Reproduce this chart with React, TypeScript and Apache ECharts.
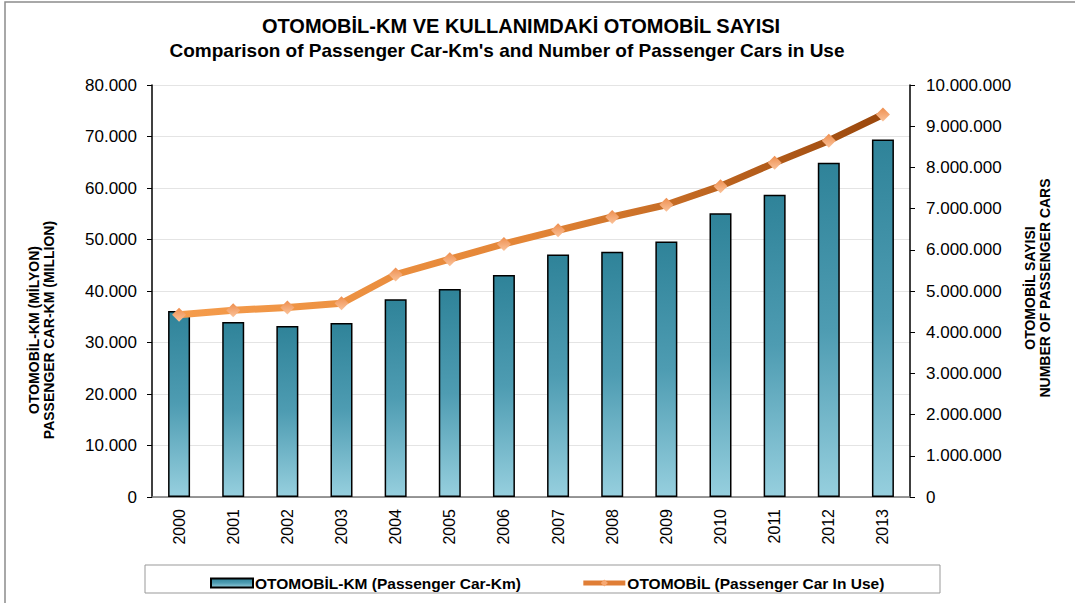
import React, { useEffect, useRef } from "react";
import * as echarts from "echarts";

const years = ["2000", "2001", "2002", "2003", "2004", "2005", "2006", "2007", "2008", "2009", "2010", "2011", "2012", "2013"];
const carKm = [36100, 34000, 33200, 33800, 38400, 40400, 43100, 47100, 47600, 49600, 55100, 58700, 64900, 69400];
const carsInUse = [4422180, 4534803, 4600140, 4700343, 5400440, 5772745, 6140992, 6472156, 6796629, 7093964, 7544871, 8113111, 8648875, 9283923];

const titleLine1 = "OTOMOBİL-KM VE KULLANIMDAKİ OTOMOBİL SAYISI";
const titleLine2 = "Comparison of Passenger Car-Km's and Number of Passenger Cars in Use";
const leftName = ["OTOMOBİL-KM (MİLYON)", "PASSENGER CAR-KM (MILLION)"];
const rightName = ["OTOMOBİL SAYISI", "NUMBER OF PASSENGER CARS"];
const barName = "OTOMOBİL-KM (Passenger Car-Km)";
const lineName = "OTOMOBİL (Passenger Car In Use)";

const FONT = 'Arial, "Liberation Sans", sans-serif';

function fmt(v: number): string {
  return Math.round(v).toString().replace(/\B(?=(\d{3})+(?!\d))/g, ".");
}

export default function App() {
  const ref = useRef<HTMLDivElement>(null);
  useEffect(() => {
    if (!ref.current) return;
    const chart = echarts.init(ref.current, null, { renderer: "svg" });
    const barGrad = new echarts.graphic.LinearGradient(0, 0, 0, 1, [
      { offset: 0, color: "#2F8399" },
      { offset: 0.5, color: "#4E9CB2" },
      { offset: 1, color: "#96CFDE" },
    ]);
    const lineGrad = new echarts.graphic.LinearGradient(0, 0, 1, 0, [
      { offset: 0, color: "#F59C4C" },
      { offset: 0.5, color: "#E38536" },
      { offset: 1, color: "#9A470C" },
    ]);
    const markerGrad = new echarts.graphic.LinearGradient(0, 0, 0, 1, [
      { offset: 0, color: "#EE8E4E" },
      { offset: 1, color: "#FAC29A" },
    ]);
    const nameFont = `bold 14px ${FONT}`;
    chart.setOption({
      animation: false,
      textStyle: { fontFamily: FONT },
      grid: { left: 152, right: 165, top: 85, bottom: 106, containLabel: false },
      graphic: [
        {
          type: "rect",
          shape: { x: 5, y: 2, width: 1100, height: 650 },
          style: { fill: "none", stroke: "#8C8C8C", lineWidth: 1.5 },
          silent: true,
        },
        {
          type: "rect",
          shape: { x: 145, y: 565, width: 795, height: 28 },
          style: { fill: "#fff", stroke: "#999", lineWidth: 1 },
          z: -1,
          silent: true,
        },
        {
          type: "text",
          x: 521,
          y: 26,
          style: { text: titleLine1, font: `bold 20px ${FONT}`, fill: "#000", align: "center", verticalAlign: "middle" },
        },
        {
          type: "text",
          x: 507,
          y: 50,
          style: { text: titleLine2, font: `bold 19px ${FONT}`, fill: "#000", align: "center", verticalAlign: "middle" },
        },
        {
          type: "text",
          x: 34,
          y: 330,
          rotation: Math.PI / 2,
          style: { text: leftName[0], font: nameFont, fill: "#000", align: "center", verticalAlign: "middle" },
        },
        {
          type: "text",
          x: 49,
          y: 330,
          rotation: Math.PI / 2,
          style: { text: leftName[1], font: nameFont, fill: "#000", align: "center", verticalAlign: "middle" },
        },
        {
          type: "text",
          x: 1030,
          y: 288,
          rotation: Math.PI / 2,
          style: { text: rightName[0], font: nameFont, fill: "#000", align: "center", verticalAlign: "middle" },
        },
        {
          type: "text",
          x: 1045,
          y: 288,
          rotation: Math.PI / 2,
          style: { text: rightName[1], font: nameFont, fill: "#000", align: "center", verticalAlign: "middle" },
        },
      ],
      legend: {
        left: 205,
        top: 570,
        itemWidth: 42,
        itemHeight: 9,
        itemGap: 60,
        textStyle: { fontFamily: FONT, fontSize: 15.5, fontWeight: "bold", color: "#000", padding: [0, 0, 0, -3] },
        data: [
          { name: barName, icon: "rect" },
          { name: lineName, lineStyle: { color: "#E07E36", width: 5 }, itemStyle: { color: "#F6A872" } },
        ],
      },
      xAxis: {
        type: "category",
        data: years,
        axisLine: { show: true, lineStyle: { color: "#777", width: 1.5 } },
        axisTick: { show: false },
        axisLabel: { rotate: 90, fontSize: 16, color: "#000", margin: 12, fontFamily: FONT },
        splitLine: { show: false },
      },
      yAxis: [
        {
          type: "value",
          min: 0,
          max: 80000,
          interval: 10000,
          position: "left",
          axisLine: { show: true, lineStyle: { color: "#000", width: 1.5 } },
          axisTick: { show: true, length: 5, lineStyle: { color: "#000" } },
          axisLabel: { formatter: (v: number) => fmt(v), fontSize: 17, color: "#000", margin: 15, fontFamily: FONT },
          splitLine: { show: true, lineStyle: { color: "#E4E4E4", width: 1.2 } },
        },
        {
          type: "value",
          min: 0,
          max: 10000000,
          interval: 1000000,
          position: "right",
          axisLine: { show: true, lineStyle: { color: "#000", width: 1.5 } },
          axisTick: { show: true, length: 5, lineStyle: { color: "#000" } },
          axisLabel: { formatter: (v: number) => fmt(v), fontSize: 17, color: "#000", margin: 16, fontFamily: FONT },
          splitLine: { show: false },
        },
      ],
      series: [
        {
          name: barName,
          type: "bar",
          yAxisIndex: 0,
          data: carKm,
          barWidth: 22,
          itemStyle: { color: barGrad, borderColor: "#000", borderWidth: 1.5 },
          z: 2,
        },
        {
          name: lineName,
          type: "line",
          yAxisIndex: 1,
          data: carsInUse,
          symbol: "diamond",
          symbolSize: 14,
          lineStyle: { color: lineGrad, width: 7 },
          itemStyle: { color: markerGrad, borderWidth: 0 },
          z: 3,
        },
      ],
    });
    return () => chart.dispose();
  }, []);
  return <div ref={ref} style={{ position: "absolute", left: 0, top: 0, width: 1075, height: 603 }} />;
}
